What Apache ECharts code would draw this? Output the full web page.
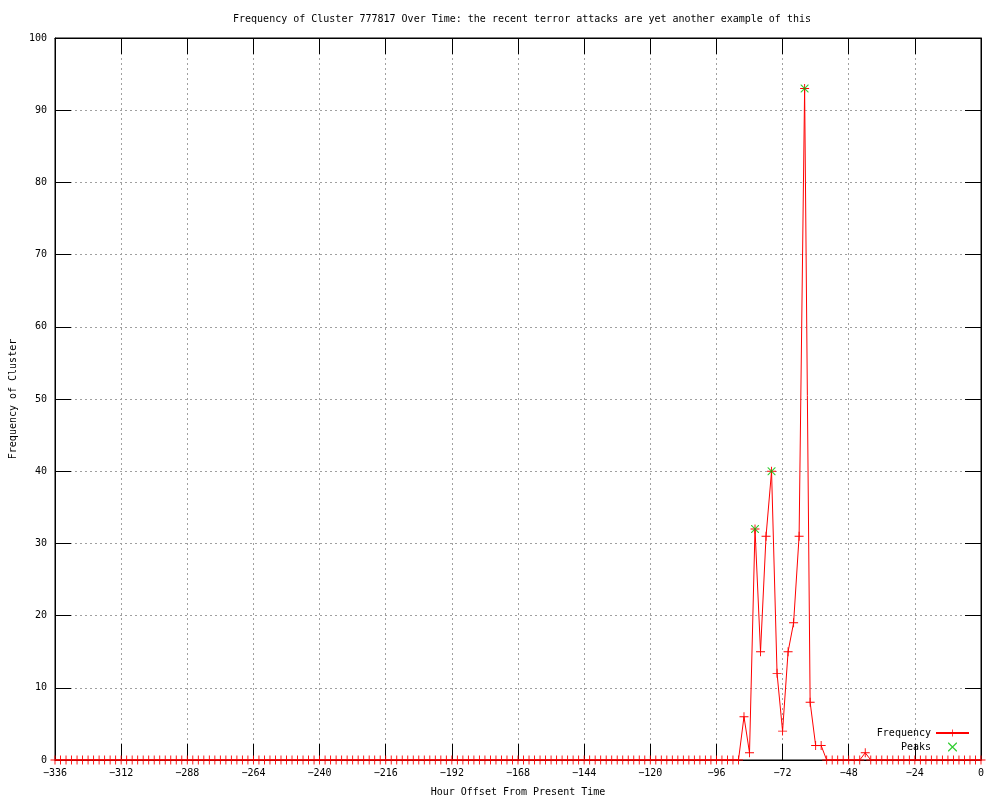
<!DOCTYPE html>
<html>
<head>
<meta charset="utf-8">
<script src="https://cdn.jsdelivr.net/npm/echarts@6/dist/echarts.min.js"></script>
<style>html,body{margin:0;padding:0;background:#fff}#c{width:1000px;height:800px}</style>
</head>
<body>
<div id="c"></div>
<script>
// Hours from -336 to 0, every 2 hours
var hourStart = -336;
var hourStep = 2;
var frequency = [
  0,0,0,0,0,0,0,0,0,0,0,0,0,0,0,0,0,0,0,0,0,0,0,0,0,
  0,0,0,0,0,0,0,0,0,0,0,0,0,0,0,0,0,0,0,0,0,0,0,0,0,
  0,0,0,0,0,0,0,0,0,0,0,0,0,0,0,0,0,0,0,0,0,0,0,0,0,
  0,0,0,0,0,0,0,0,0,0,0,0,0,0,0,0,0,0,0,0,0,0,0,0,0,
  0,0,0,0,0,0,0,0,0,0,0,0,0,0,0,0,0,0,0,0,0,0,0,0,0,
  6,1,32,15,31,40,12,4,15,19,31,93,8,2,2,
  0,0,0,0,0,0,0,1,
  0,0,0,0,0,0,0,0,0,0,0,0,0,0,0,0,0,0,0,0,0
];
var peakHours = [-82, -76, -64];
var peakValues = [32, 40, 93];

var freqData = frequency.map(function (v, i) { return [hourStart + hourStep * i, v]; });
var peakData = peakHours.map(function (h, i) { return [h, peakValues[i]]; });

var FONT = 'DejaVu Sans Mono';
var FS = 10;
var plus = 'path://M0,4.5h10v1h-10z M4.5,0h1v10h-1z';
var cross = 'path://M0,0L1,0L10,9L10,10L9,10L0,1Z M9,0L10,0L10,1L1,10L0,10L0,9Z';

var chart = echarts.init(document.getElementById('c'), null, {renderer: 'canvas'});
var splitStyle = {show: true, lineStyle: {color: '#a0a0a0', type: [2, 3], width: 1}};
var tickStyle = {show: true, inside: true, length: 16, lineStyle: {color: '#000'}};
chart.setOption({
  animation: false,
  backgroundColor: '#ffffff',
  textStyle: {fontFamily: FONT, color: '#000'},
  title: {
    text: 'Frequency of Cluster 777817 Over Time: the recent terror attacks are yet another example of this',
    left: 517, top: 9, textAlign: 'center',
    textStyle: {fontFamily: FONT, fontSize: FS, fontWeight: 'normal', color: '#000'}
  },
  grid: {left: 55, right: 19, top: 38, bottom: 40, show: true, borderColor: '#000', borderWidth: 1,
    containLabel: false, outerBoundsMode: 'none'},
  legend: {
    orient: 'vertical', right: 30, top: 728, align: 'right', padding: 0,
    itemWidth: 33, itemHeight: 9, itemGap: 4,
    textStyle: {fontFamily: FONT, fontSize: FS, color: '#000'},
    data: [{name: 'Frequency'}, {name: 'Peaks'}]
  },
  xAxis: [{
    type: 'value', min: -336, max: 0, interval: 24,
    name: 'Hour Offset From Present Time', nameLocation: 'middle', nameGap: 27,
    nameTextStyle: {fontFamily: FONT, fontSize: FS, color: '#000'},
    axisLine: {show: true, onZero: false, lineStyle: {color: '#000'}},
    axisTick: tickStyle,
    axisLabel: {fontFamily: FONT, fontSize: FS, color: '#000', margin: 8,
      formatter: function (v) { return String(v).replace('-', '\u2212'); }},
    splitLine: splitStyle
  }, {
    type: 'value', min: -336, max: 0, interval: 24, position: 'top',
    axisLine: {show: true, onZero: false, lineStyle: {color: '#000'}},
    axisTick: tickStyle,
    axisLabel: {show: false}, splitLine: {show: false}
  }],
  yAxis: [{
    type: 'value', min: 0, max: 100, interval: 10,
    name: 'Frequency of Cluster', nameLocation: 'middle', nameGap: 36, nameRotate: 90,
    nameTextStyle: {fontFamily: FONT, fontSize: FS, color: '#000'},
    axisLine: {show: true, onZero: false, lineStyle: {color: '#000'}},
    axisTick: tickStyle,
    axisLabel: {fontFamily: FONT, fontSize: FS, color: '#000', margin: 8},
    splitLine: splitStyle
  }, {
    type: 'value', min: 0, max: 100, interval: 10, position: 'right',
    axisLine: {show: true, onZero: false, lineStyle: {color: '#000'}},
    axisTick: tickStyle,
    axisLabel: {show: false}, splitLine: {show: false}
  }],
  series: [{
    name: 'Frequency', type: 'line', data: freqData, xAxisIndex: 0, yAxisIndex: 0,
    symbol: plus, symbolSize: 9, showAllSymbol: true,
    lineStyle: {color: '#ff0000', width: 1},
    itemStyle: {color: '#ff0000'},
    z: 3
  }, {
    name: 'Peaks', type: 'scatter', data: peakData, xAxisIndex: 0, yAxisIndex: 0,
    symbol: cross, symbolSize: 8,
    itemStyle: {color: '#00c000'},
    z: 4
  }]
});
</script>
</body>
</html>
